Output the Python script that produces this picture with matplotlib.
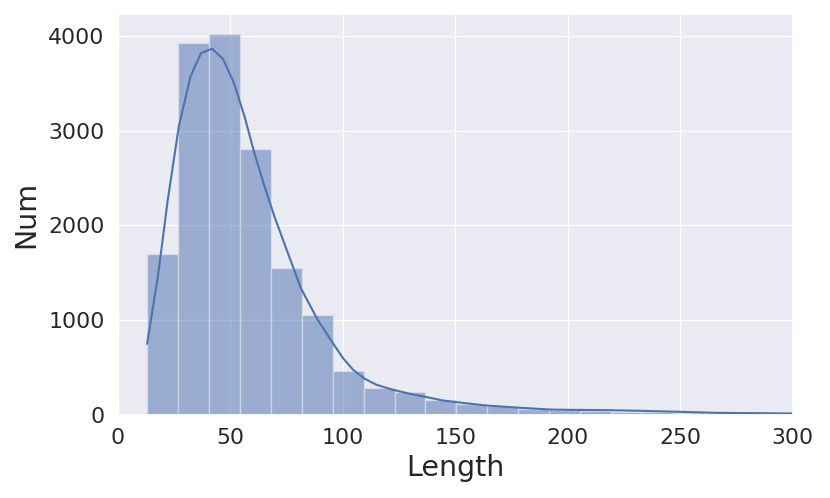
import numpy as np
import matplotlib
matplotlib.use("Agg")
import matplotlib.pyplot as plt
import seaborn as sns

# histogram bins (start, width) and counts
bin_start = 13.0
bin_width = 13.75
counts = [1700, 3920, 4020, 2800, 1550, 1055, 463, 285, 239, 155, 116,
          95, 63, 46, 39, 35, 28, 21, 18, 15, 12, 10]

# kde curve points
kde_x = [13.0, 17.8, 22.2, 27.1, 32.3, 37.0, 41.9, 46.8, 51.6, 56.3, 60.7,
         65.2, 69.6, 75.6, 81.5, 88.9, 95.6, 100.1, 104.6, 109.8, 115.0,
         122.4, 129.8, 137.2, 144.6, 150.5, 163.9, 177.2, 192.0, 199.4,
         218.7, 233.5, 249.8, 266.1, 280.9, 300.0, 310.0]
kde_y = [749, 1460, 2269, 3043, 3571, 3817, 3863, 3754, 3500, 3149, 2762,
         2410, 2093, 1706, 1330, 1000, 757, 598, 475, 380, 317,
         264, 222, 187, 151, 134, 98, 77, 56, 53,
         49, 42, 32, 21, 18, 14, 12]

sns.set_theme(style="darkgrid")

fig, ax = plt.subplots(figsize=(8.3, 4.98), dpi=100)
edges = bin_start + bin_width * np.arange(len(counts) + 1)
centers = edges[:-1] + bin_width / 2
ax.hist(centers, bins=edges, weights=counts, color="#4c72b0", alpha=0.5,
        edgecolor="#eaeaf2", linewidth=1.0)
ax.plot(kde_x, kde_y, color="#4c72b0", linewidth=1.5)

ax.set_xlim(0, 300)
ax.set_ylim(0, 4230)
ax.set_xticks([0, 50, 100, 150, 200, 250, 300])
ax.set_yticks([0, 1000, 2000, 3000, 4000])
ax.tick_params(labelsize=15.8)
ax.set_xlabel("Length", fontsize=20.5)
ax.set_ylabel("Num", fontsize=20.5, labelpad=6)

fig.subplots_adjust(left=0.142, right=0.955, top=0.972, bottom=0.167)
fig.savefig("out.png")
